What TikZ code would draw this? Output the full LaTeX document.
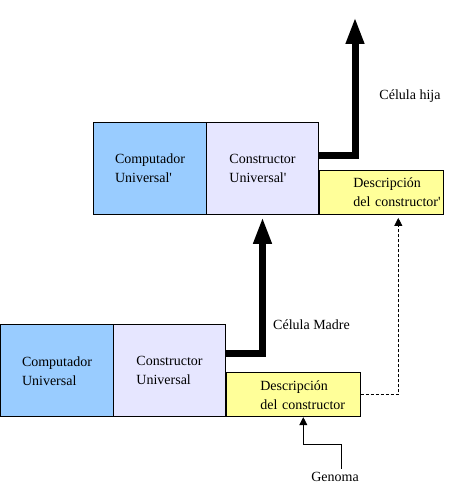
\documentclass[tikz,border=0pt]{standalone}
\usepackage{fontspec}
\setmainfont{Liberation Serif}
\usetikzlibrary{positioning,arrows.meta}
\definecolor{compblue}{HTML}{99CCFF}
\definecolor{conlav}{HTML}{E6E6FF}
\definecolor{descyel}{HTML}{FFFF99}
\hyphenpenalty=10000
\hfuzz=60pt
\begin{document}
\begin{tikzpicture}[
  x=1pt, y=-1pt,
  font=\fontsize{14pt}{19pt}\selectfont,
  box/.style={rectangle, draw, line width=0.8pt, minimum height=92pt, align=left},
  comp/.style={box, fill=compblue, minimum width=113pt},
  con/.style={box, fill=conlav, minimum width=112pt},
  desc/.style={rectangle, draw, line width=0.8pt, fill=descyel, minimum height=44pt, inner xsep=34pt, inner ysep=0pt, align=left},
  bigarrow/.style={line width=7pt, -{Triangle[width=17pt,length=27pt]}},
  thinarrow/.style={line width=0.8pt, -{Triangle[width=8pt,length=8pt]}},
  node distance=112.5pt
]
\useasboundingbox (0,0) rectangle (467,492);

% celula hija
\node[comp] (compT) at (150,168.5) {Computador\\Universal\textquotesingle};
\node[con, right of=compT] (conT) {Constructor\\Universal\textquotesingle};
\node[desc, text width=56pt, anchor=south west] (descT) at (conT.south east) {Descripción\\del~constructor\textquotesingle};

% celula madre
\node[comp] (compB) at (57,370.75) {Computador\\Universal};
\node[con, right of=compB] (conB) {Constructor\\Universal};
\node[desc, text width=66pt, anchor=south west] (descB) at (conB.south east) {Descripción\\del~constructor};

\coordinate (out) at (355,17);
\node (hija) at (410,96) {Célula hija};
\node (madre) at (311.5,325) {Célula Madre};
\node (gen) at (335,477) {Genoma};

\draw[bigarrow] ([yshift=13pt]conT.east) -| (out);
\draw[bigarrow] ([yshift=17pt]conB.east) -| ([yshift=-2pt]conT.south);
\draw[thinarrow, dash pattern=on 3pt off 2pt] (descB.east) -| ([xshift=17pt,yshift=-3pt]descT.south);
\draw[thinarrow] ([xshift=6pt]gen.north) -- ++(0,-24) -| ([xshift=10pt]descB.south);
\end{tikzpicture}
\end{document}
